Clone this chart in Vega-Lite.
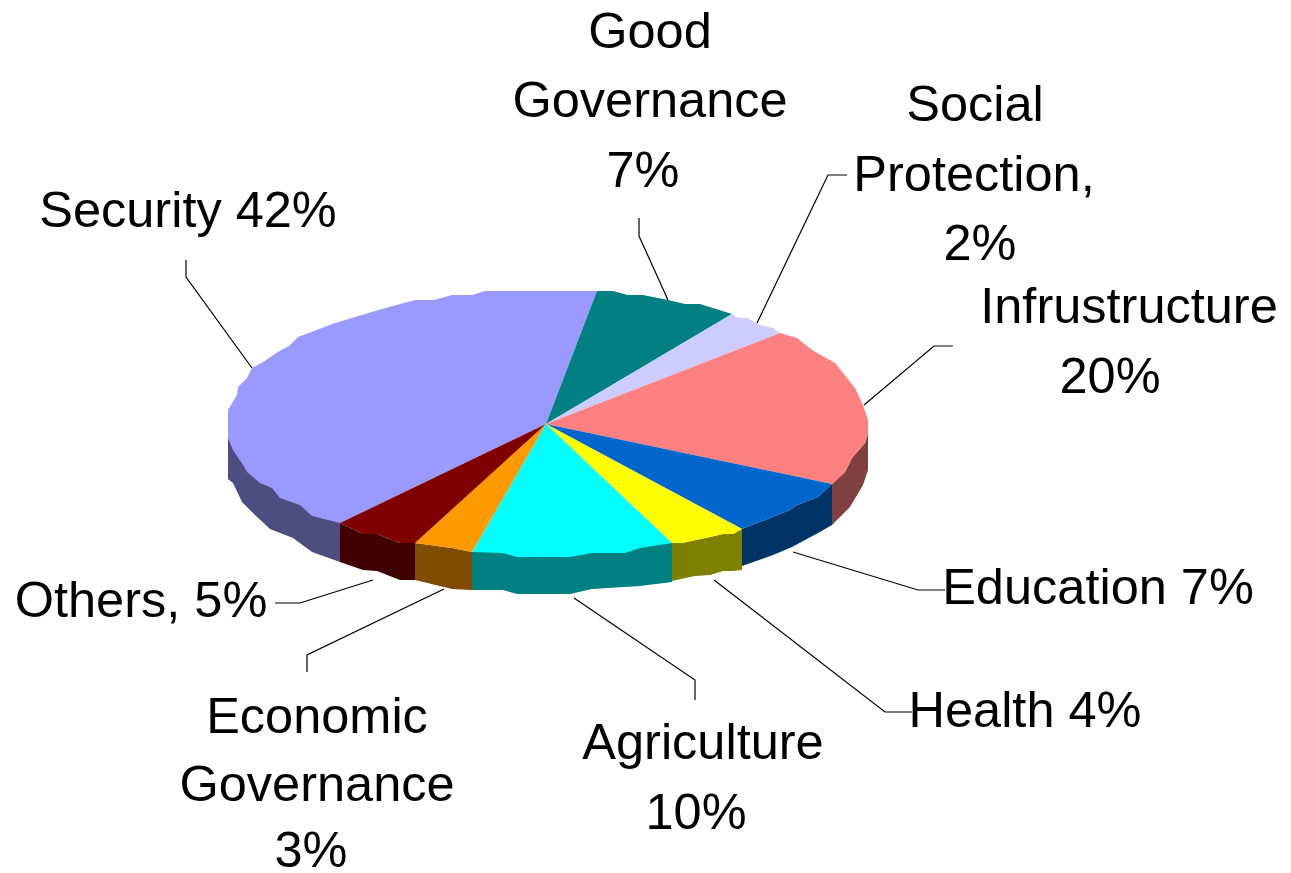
{"$schema":"https://vega.github.io/schema/vega-lite/v6.json","width":1291,"height":873,"padding":0,"autosize":{"type":"none"},"background":"white","view":{"stroke":null},
"datasets":{"shapes":[
{"part":"Security side","x":228,"y":438},{"part":"Security side","x":228,"y":479},{"part":"Security side","x":233,"y":483},{"part":"Security side","x":242,"y":502},{"part":"Security side","x":255,"y":515},{"part":"Security side","x":270,"y":529},{"part":"Security side","x":293,"y":538},{"part":"Security side","x":312,"y":552},{"part":"Security side","x":340,"y":562},{"part":"Security side","x":340,"y":523},{"part":"Security side","x":300,"y":480},{"part":"Security side","x":260,"y":450},
{"part":"Others side","x":340,"y":523},{"part":"Others side","x":363,"y":534},{"part":"Others side","x":377,"y":534},{"part":"Others side","x":400,"y":543},{"part":"Others side","x":415,"y":543},{"part":"Others side","x":415,"y":580},{"part":"Others side","x":400,"y":580},{"part":"Others side","x":377,"y":571},{"part":"Others side","x":363,"y":570},{"part":"Others side","x":340,"y":562},
{"part":"Economic side","x":415,"y":543},{"part":"Economic side","x":452,"y":548},{"part":"Economic side","x":472,"y":552},{"part":"Economic side","x":472,"y":590},{"part":"Economic side","x":452,"y":589},{"part":"Economic side","x":415,"y":580},
{"part":"Agriculture side","x":472,"y":552},{"part":"Agriculture side","x":672,"y":543},{"part":"Agriculture side","x":672,"y":582},{"part":"Agriculture side","x":640,"y":586},{"part":"Agriculture side","x":592,"y":589},{"part":"Agriculture side","x":570,"y":594},{"part":"Agriculture side","x":517,"y":594},{"part":"Agriculture side","x":503,"y":590},{"part":"Agriculture side","x":472,"y":590},
{"part":"Health side","x":672,"y":543},{"part":"Health side","x":682,"y":543},{"part":"Health side","x":710,"y":537},{"part":"Health side","x":723,"y":534},{"part":"Health side","x":733,"y":534},{"part":"Health side","x":742,"y":529},{"part":"Health side","x":742,"y":570},{"part":"Health side","x":733,"y":571},{"part":"Health side","x":723,"y":571},{"part":"Health side","x":710,"y":575},{"part":"Health side","x":695,"y":576},{"part":"Health side","x":672,"y":581},
{"part":"Education side","x":742,"y":529},{"part":"Education side","x":770,"y":518},{"part":"Education side","x":790,"y":510},{"part":"Education side","x":797,"y":505},{"part":"Education side","x":818,"y":497},{"part":"Education side","x":832,"y":484},{"part":"Education side","x":832,"y":525},{"part":"Education side","x":818,"y":533},{"part":"Education side","x":792,"y":547},{"part":"Education side","x":773,"y":555},{"part":"Education side","x":742,"y":566},
{"part":"Infrastructure side","x":832,"y":484},{"part":"Infrastructure side","x":845,"y":472},{"part":"Infrastructure side","x":852,"y":458},{"part":"Infrastructure side","x":865,"y":443},{"part":"Infrastructure side","x":868,"y":433},{"part":"Infrastructure side","x":868,"y":470},{"part":"Infrastructure side","x":863,"y":485},{"part":"Infrastructure side","x":850,"y":507},{"part":"Infrastructure side","x":832,"y":525},
{"part":"Security","x":546,"y":424},{"part":"Security","x":597,"y":291},{"part":"Security","x":485,"y":291},{"part":"Security","x":472,"y":295},{"part":"Security","x":452,"y":295},{"part":"Security","x":434,"y":300},{"part":"Security","x":415,"y":300},{"part":"Security","x":382,"y":309},{"part":"Security","x":355,"y":317},{"part":"Security","x":335,"y":323},{"part":"Security","x":298,"y":337},{"part":"Security","x":289,"y":346},{"part":"Security","x":278,"y":352},{"part":"Security","x":263,"y":362},{"part":"Security","x":252,"y":368},{"part":"Security","x":247,"y":378},{"part":"Security","x":238,"y":387},{"part":"Security","x":237,"y":395},{"part":"Security","x":228,"y":410},{"part":"Security","x":228,"y":438},{"part":"Security","x":233,"y":450},{"part":"Security","x":243,"y":465},{"part":"Security","x":247,"y":472},{"part":"Security","x":260,"y":483},{"part":"Security","x":272,"y":488},{"part":"Security","x":280,"y":498},{"part":"Security","x":300,"y":505},{"part":"Security","x":312,"y":516},{"part":"Security","x":340,"y":523},
{"part":"Good Governance","x":546,"y":424},{"part":"Good Governance","x":597,"y":291},{"part":"Good Governance","x":613,"y":291},{"part":"Good Governance","x":628,"y":295},{"part":"Good Governance","x":643,"y":295},{"part":"Good Governance","x":668,"y":300},{"part":"Good Governance","x":685,"y":304},{"part":"Good Governance","x":700,"y":304},{"part":"Good Governance","x":732,"y":314},
{"part":"Social Protection","x":546,"y":424},{"part":"Social Protection","x":732,"y":314},{"part":"Social Protection","x":738,"y":318},{"part":"Social Protection","x":747,"y":318},{"part":"Social Protection","x":760,"y":325},{"part":"Social Protection","x":773,"y":328},{"part":"Social Protection","x":780,"y":333},
{"part":"Infrastructure","x":546,"y":424},{"part":"Infrastructure","x":780,"y":333},{"part":"Infrastructure","x":797,"y":338},{"part":"Infrastructure","x":812,"y":350},{"part":"Infrastructure","x":835,"y":363},{"part":"Infrastructure","x":855,"y":388},{"part":"Infrastructure","x":863,"y":405},{"part":"Infrastructure","x":868,"y":420},{"part":"Infrastructure","x":868,"y":433},{"part":"Infrastructure","x":865,"y":443},{"part":"Infrastructure","x":852,"y":458},{"part":"Infrastructure","x":845,"y":472},{"part":"Infrastructure","x":832,"y":484},
{"part":"Education","x":546,"y":424},{"part":"Education","x":832,"y":484},{"part":"Education","x":818,"y":497},{"part":"Education","x":797,"y":505},{"part":"Education","x":790,"y":510},{"part":"Education","x":770,"y":518},{"part":"Education","x":742,"y":529},
{"part":"Health","x":546,"y":424},{"part":"Health","x":742,"y":529},{"part":"Health","x":733,"y":534},{"part":"Health","x":723,"y":534},{"part":"Health","x":710,"y":537},{"part":"Health","x":682,"y":543},{"part":"Health","x":672,"y":543},
{"part":"Agriculture","x":546,"y":424},{"part":"Agriculture","x":672,"y":543},{"part":"Agriculture","x":640,"y":548},{"part":"Agriculture","x":625,"y":553},{"part":"Agriculture","x":592,"y":553},{"part":"Agriculture","x":570,"y":557},{"part":"Agriculture","x":517,"y":557},{"part":"Agriculture","x":503,"y":553},{"part":"Agriculture","x":472,"y":552},
{"part":"Economic Governance","x":546,"y":424},{"part":"Economic Governance","x":472,"y":552},{"part":"Economic Governance","x":452,"y":548},{"part":"Economic Governance","x":415,"y":543},
{"part":"Others","x":546,"y":424},{"part":"Others","x":415,"y":543},{"part":"Others","x":400,"y":543},{"part":"Others","x":377,"y":534},{"part":"Others","x":363,"y":534},{"part":"Others","x":340,"y":523}
],
"leaders":[
{"to":"Security","x":186,"y":260},{"to":"Security","x":186,"y":277},{"to":"Security","x":252,"y":368},
{"to":"Good Governance","x":639,"y":218},{"to":"Good Governance","x":639,"y":236},{"to":"Good Governance","x":668,"y":300},
{"to":"Social Protection","x":847,"y":175},{"to":"Social Protection","x":828,"y":175},{"to":"Social Protection","x":757,"y":323},
{"to":"Infrastructure","x":953,"y":346},{"to":"Infrastructure","x":934,"y":346},{"to":"Infrastructure","x":864,"y":405},
{"to":"Education","x":793,"y":552},{"to":"Education","x":918,"y":590},{"to":"Education","x":945,"y":590},
{"to":"Health","x":714,"y":580},{"to":"Health","x":885,"y":712},{"to":"Health","x":912,"y":712},
{"to":"Agriculture","x":574,"y":598},{"to":"Agriculture","x":695,"y":680},{"to":"Agriculture","x":695,"y":700},
{"to":"Economic Governance","x":444,"y":589},{"to":"Economic Governance","x":307,"y":655},{"to":"Economic Governance","x":307,"y":672},
{"to":"Others","x":373,"y":580},{"to":"Others","x":300,"y":603},{"to":"Others","x":275,"y":603}
],
"labels":[
{"t":"Good","x":650,"y":33},{"t":"Governance","x":650,"y":102},{"t":"7%","x":643,"y":172},
{"t":"Social","x":975,"y":106},{"t":"Protection,","x":974,"y":176},{"t":"2%","x":980,"y":245},
{"t":"Infrustructure","x":1129,"y":308},{"t":"20%","x":1110,"y":378},
{"t":"Security 42%","x":188,"y":212},{"t":"Education 7%","x":1098,"y":589},{"t":"Health 4%","x":1025,"y":712},
{"t":"Agriculture","x":703,"y":744},{"t":"10%","x":696,"y":814},
{"t":"Economic","x":317,"y":718},{"t":"Governance","x":317,"y":786},{"t":"3%","x":311,"y":852},
{"t":"Others, 5%","x":141,"y":602}
]},
"encoding":{
"x":{"field":"x","type":"quantitative","scale":{"domain":[0,1291],"nice":false,"zero":false},"axis":null},
"y":{"field":"y","type":"quantitative","scale":{"domain":[873,0],"nice":false,"zero":false},"axis":null}
},
"layer":[
{"data":{"name":"shapes"},"mark":{"type":"line","filled":true,"strokeWidth":0,"interpolate":"linear"},
"transform":[{"window":[{"op":"row_number","as":"n"}]}],
"encoding":{"order":{"field":"n","type":"quantitative"},
"color":{"field":"part","type":"nominal","legend":null,"scale":{
"domain":["Security side","Others side","Economic side","Agriculture side","Health side","Education side","Infrastructure side","Security","Good Governance","Social Protection","Infrastructure","Education","Health","Agriculture","Economic Governance","Others"],
"range":["#4D4D80","#400000","#804D00","#008080","#808000","#003366","#804040","#9999FF","#008080","#CCCCFF","#FF8080","#0066CC","#FFFF00","#00FFFF","#FF9900","#800000"]}}}},
{"data":{"name":"leaders"},"mark":{"type":"line","color":"black","strokeWidth":1.2},
"transform":[{"window":[{"op":"row_number","as":"n"}]}],
"encoding":{"detail":{"field":"to"},"order":{"field":"n","type":"quantitative"}}},
{"data":{"name":"labels"},"mark":{"type":"text","font":"Liberation Sans","fontSize":50.5,"align":"center","baseline":"middle","color":"black"},
"encoding":{"text":{"field":"t"}}}
]}
